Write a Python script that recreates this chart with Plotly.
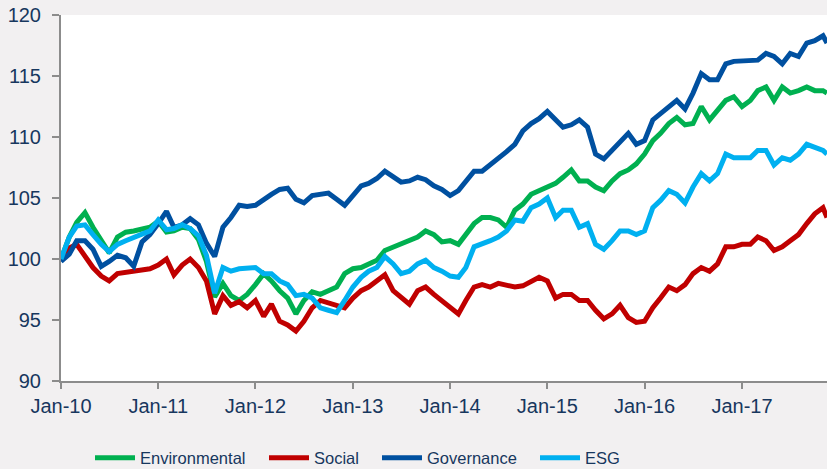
import pandas as pd
import plotly.graph_objects as go

# monthly readings, Jan-10 .. Nov-17, plus the last point at the right edge
dates = list(pd.date_range("2010-01-01", "2017-11-01", freq="MS")) + [pd.Timestamp("2017-11-16")]

environmental = [
    100.0, 101.8, 103.0, 103.8, 102.6, 101.6, 100.5, 101.8, 102.2, 102.3, 102.4, 102.6,
    103.1, 102.2, 102.3, 102.6, 102.5, 101.6, 99.8, 96.9, 98.0, 97.0, 96.6, 97.1,
    97.9, 98.8, 98.2, 97.4, 96.8, 95.5, 96.6, 97.3, 97.1, 97.4, 97.7, 98.8,
    99.2, 99.3, 99.6, 99.9, 100.7, 101.0, 101.2, 101.6, 101.8, 102.3, 102.0, 101.4,
    101.5, 101.2, 102.0, 102.9, 103.4, 103.4, 103.2, 102.6, 104.0, 104.5, 105.3, 105.6,
    105.9, 106.2, 106.7, 107.3, 106.4, 106.4, 105.9, 105.6, 106.4, 107.0, 107.3, 107.8,
    108.6, 109.7, 110.3, 111.1, 111.6, 111.0, 111.1, 112.5, 111.4, 112.2, 113.0, 113.3,
    112.5, 113.0, 113.8, 114.1, 113.0, 114.1, 113.6, 113.8, 114.1, 113.8, 113.8, 113.6,
]

social = [
    100.0, 100.9, 101.2, 100.3, 99.3, 98.6, 98.2, 98.8, 98.9, 99.0, 99.1, 99.2,
    99.5, 100.0, 98.7, 99.5, 100.0, 99.3, 98.2, 95.5, 97.0, 96.2, 96.5, 96.0,
    96.6, 95.3, 96.3, 94.9, 94.6, 94.1, 94.9, 96.0, 96.6, 96.4, 96.3, 96.0,
    96.8, 97.4, 97.7, 98.2, 98.7, 97.4, 96.8, 96.3, 97.4, 97.7, 97.1, 96.6,
    96.0, 95.5, 96.6, 97.7, 97.9, 97.7, 98.0, 97.8, 97.7, 97.8, 98.2, 98.5,
    98.2, 96.8, 97.1, 97.1, 96.6, 96.6, 95.8, 95.1, 95.5, 96.2, 95.2, 94.8,
    94.9, 96.0, 96.8, 97.7, 97.4, 97.9, 98.8, 99.3, 99.0, 99.6, 101.0, 101.0,
    101.2, 101.2, 101.8, 101.5, 100.7, 101.0, 101.5, 102.0, 102.9, 103.7, 104.2, 103.4,
]

governance = [
    99.8, 100.4, 101.5, 101.5, 100.8, 99.4, 99.8, 100.3, 100.1, 99.4, 101.4, 102.0,
    102.9, 103.9, 102.6, 102.8, 103.3, 102.8, 101.3, 100.2, 102.6, 103.4, 104.4, 104.3,
    104.4, 104.9, 105.3, 105.7, 105.8, 104.9, 104.6, 105.2, 105.3, 105.4, 104.9, 104.4,
    105.2, 106.0, 106.2, 106.6, 107.2, 106.7, 106.3, 106.4, 106.7, 106.5, 106.0, 105.7,
    105.2, 105.6, 106.3, 107.2, 107.2, 107.7, 108.2, 108.8, 109.4, 110.5, 111.1, 111.5,
    112.1, 111.4, 110.8, 111.0, 111.4, 110.8, 108.6, 108.2, 108.9, 109.7, 110.3, 109.4,
    109.7, 111.4, 111.9, 112.5, 113.0, 112.3, 113.6, 115.2, 114.7, 114.7, 116.0, 116.2,
    116.2, 116.3, 116.3, 116.85, 116.6, 116.0, 116.85, 116.6, 117.7, 117.9, 118.3, 117.7,
]

esg = [
    100.0, 101.8, 102.7, 102.8, 102.0, 101.2, 100.6, 101.2, 101.5, 101.8, 102.0, 102.3,
    103.2, 102.4, 102.5, 102.8, 102.5, 101.9, 100.3, 97.2, 99.3, 99.0, 99.2, 99.3,
    99.3, 98.8, 98.8, 98.2, 97.9, 97.0, 97.1, 96.8, 96.0, 95.8, 95.6, 96.6,
    97.7, 98.5, 99.0, 99.3, 100.2, 99.6, 98.8, 99.0, 99.6, 99.9, 99.3, 99.0,
    98.6, 98.5, 99.3, 101.0, 101.2, 101.5, 101.8, 102.3, 103.2, 103.1, 104.2, 104.5,
    105.0, 103.4, 104.0, 104.0, 102.6, 102.9, 101.2, 100.8, 101.5, 102.3, 102.3, 102.0,
    102.3, 104.2, 104.8, 105.6, 105.3, 104.6, 105.9, 107.0, 106.4, 107.0, 108.6, 108.3,
    108.3, 108.3, 108.9, 108.9, 107.7, 108.3, 108.1, 108.6, 109.4, 109.2, 108.9, 108.6,
]

names = ["Environmental", "Social", "Governance", "ESG"]
colors = ["#00B050", "#C00000", "#0050A0", "#00B0F0"]
series = [environmental, social, governance, esg]

# one legend per entry so the spacing between entries can follow the original
legend_ids = ["legend", "legend2", "legend3", "legend4"]
legend_left = [90, 264, 377, 535]

fig = go.Figure()
for name, color, values, lid in zip(names, colors, series, legend_ids):
    fig.add_trace(go.Scatter(x=dates, y=values, mode="lines", name=name, legend=lid,
                             line=dict(color=color, width=5)))

tick_font = dict(family="Liberation Sans, Arial, sans-serif", size=20, color="#17375E")
legend_font = dict(family="Liberation Sans Narrow, Arial Narrow, Liberation Sans, sans-serif",
                   size=16.5, color="#17375E")

W, H = 827, 469
legends = {}
for lid, left in zip(legend_ids, legend_left):
    legends[lid] = dict(orientation="h", xref="container", yref="container",
                        x=left / W, xanchor="left", y=11 / H, yanchor="middle",
                        font=legend_font, bgcolor="rgba(0,0,0,0)", itemwidth=40)

fig.update_layout(
    width=W, height=H,
    margin=dict(l=61, r=0, t=15, b=88),
    paper_bgcolor="#F2F0F1",
    plot_bgcolor="white",
    showlegend=True,
    **legends,
)
fig.update_xaxes(type="date", range=["2010-01-01", "2017-11-16"], automargin=False,
                 tick0="2010-01-01", dtick="M12", tickformat="%b-%y",
                 showgrid=False, zeroline=False, showline=True, linecolor="#8C8C8C", linewidth=2,
                 ticks="outside", ticklen=6, tickwidth=2, tickcolor="#8C8C8C", tickfont=tick_font)
fig.update_yaxes(range=[90, 120], dtick=5, showgrid=False, zeroline=False, automargin=False,
                 showline=True, linecolor="#8C8C8C", linewidth=2, ticklabelstandoff=7,
                 ticks="outside", ticklen=7, tickwidth=2, tickcolor="#8C8C8C", tickfont=tick_font)

# drop the page's default body margin so the figure sits at the window's corner
fig.write_html("out.html", config={"displayModeBar": False},
               post_script="document.body.style.margin='0';document.body.style.overflow='hidden';"
                           "document.body.style.background='#F2F0F1';")
